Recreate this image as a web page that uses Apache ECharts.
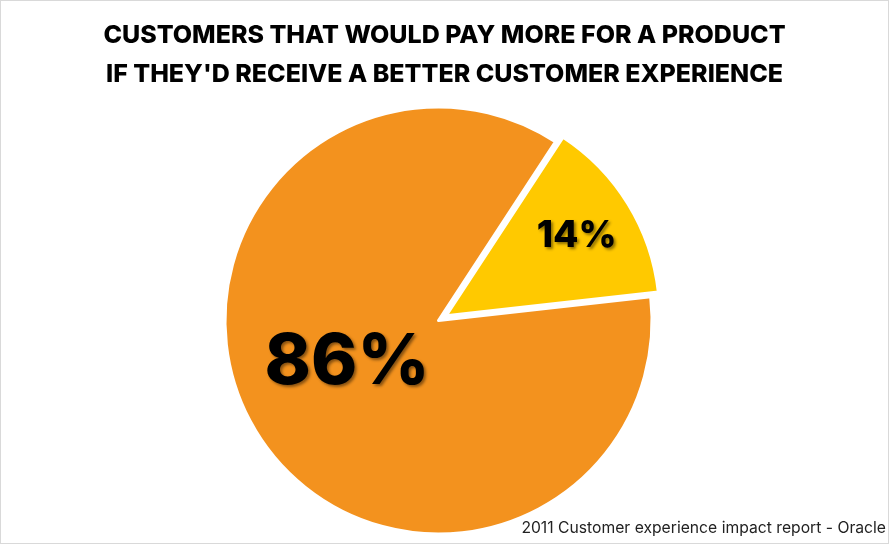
<!DOCTYPE html>
<html>
<head>
<meta charset="utf-8">
<script src="https://cdn.jsdelivr.net/npm/echarts@6/dist/echarts.min.js"></script>
<style>
html,body{margin:0;padding:0;background:#fff;}
#c{width:889px;height:544px;border:1px solid #d9d9d9;box-sizing:border-box;}
</style>
</head>
<body>
<div id="c"></div>
<script>
const categories = ["Would pay more", "Would not"];
const values = [86, 14];
const labels = ["86%", "14%"];
const titleLines = ["CUSTOMERS THAT WOULD PAY MORE FOR A PRODUCT", "IF THEY'D RECEIVE A BETTER CUSTOMER EXPERIENCE"];
const sourceText = "2011 Customer experience impact report - Oracle";

const colors = ["#F3921E", "#FFC900"];
const chart = echarts.init(document.getElementById('c'), null, {renderer: 'canvas'});
const font = 'Inter, Lato, sans-serif';

chart.setOption({
  animation: false,
  title: [{
    text: titleLines.join('\n'),
    left: 'center',
    top: 10,
    padding: [5, 14, 5, 5],
    textStyle: {fontFamily: font, fontWeight: 800, fontSize: 25, color: '#000', lineHeight: 39}
  }, {
    text: sourceText,
    right: -3,
    bottom: 2,
    textStyle: {fontFamily: font, fontWeight: 400, fontSize: 15.7, color: '#222'}
  }],
  series: [{
    type: 'pie',
    center: [437.5, 319.5],
    radius: 213.5,
    startAngle: 6.4,
    clockwise: true,
    selectedMode: 'single',
    selectedOffset: 9,
    silent: true,
    itemStyle: {borderColor: '#fff', borderWidth: 3},
    label: {
      show: true,
      position: 'inside',
      fontFamily: font,
      fontWeight: 800,
      color: '#000',
      textShadowColor: 'rgba(0,0,0,0.45)',
      textShadowBlur: 3,
      textShadowOffsetX: 2,
      textShadowOffsetY: 2,
      formatter: p => labels[p.dataIndex]
    },
    labelLine: {show: false},
    labelLayout: p => p.dataIndex === 0 ? {dx: 2, dy: -15} : {dx: 37, dy: -22},
    data: categories.map((c, i) => ({
      name: c,
      value: values[i],
      selected: i === 1,
      itemStyle: {color: colors[i]},
      label: {fontSize: i === 0 ? 70 : 37}
    }))
  }]
});
</script>
</body>
</html>
